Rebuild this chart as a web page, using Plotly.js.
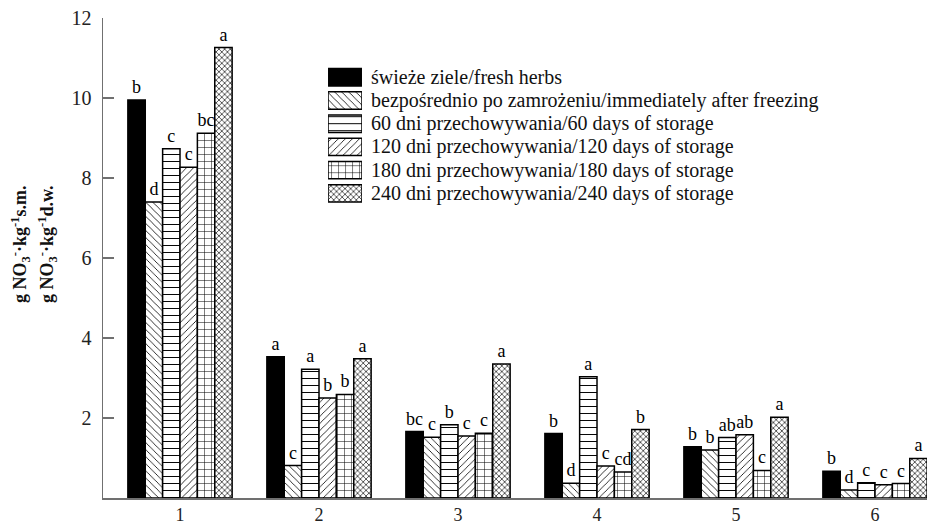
<!DOCTYPE html>
<html>
<head>
<meta charset="utf-8">
<script src="https://cdn.plot.ly/plotly-3.0.1.min.js"></script>
<style>html,body{margin:0;padding:0;background:#fff;}#chart{width:927px;height:524px;}</style>
</head>
<body>
<div id="chart"></div>
<script>
// ---- data ----
const groups = ["1", "2", "3", "4", "5", "6"];
const seriesNames = [
  "świeże ziele/fresh herbs",
  "bezpośrednio po zamrożeniu/immediately after freezing",
  "60 dni przechowywania/60 days of storage",
  "120 dni przechowywania/120 days of storage",
  "180 dni przechowywania/180 days of storage",
  "240 dni przechowywania/240 days of storage"
];
const freshHerbs   = [9.95, 3.53, 1.66, 1.61, 1.28, 0.67];
const afterFreeze  = [7.40, 0.81, 1.52, 0.37, 1.20, 0.20];
const days60       = [8.73, 3.22, 1.83, 3.03, 1.51, 0.38];
const days120      = [8.27, 2.50, 1.55, 0.80, 1.58, 0.33];
const days180      = [9.12, 2.59, 1.62, 0.65, 0.69, 0.36];
const days240      = [11.26, 3.48, 3.35, 1.71, 2.02, 0.99];

const lettersFresh  = ["b", "a", "bc", "b", "b", "b"];
const lettersFreeze = ["d", "c", "c", "d", "b", "d"];
const letters60     = ["c", "a", "b", "a", "ab", "c"];
const letters120    = ["c", "b", "c", "c", "ab", "c"];
const letters180    = ["bc", "b", "c", "cd", "c", "c"];
const letters240    = ["a", "a", "a", "b", "a", "a"];

const yTickVals = [2, 4, 6, 8, 10, 12];
const legendSwatch = [1];

// ---- styles ----
const FONT = "'Liberation Serif', 'Times New Roman', serif";
const shapes = ["", "\\", "-", "/", "+", "x"];
const patSizes = [8, 5, 7, 5, 7, 4];
const patSolid = [0.3, 0.16, 0.14, 0.16, 0.14, 0.3];
const fills = ["#000000", "#ffffff", "#ffffff", "#ffffff", "#ffffff", "#ffffff"];

const values = [freshHerbs, afterFreeze, days60, days120, days180, days240];
const letters = [lettersFresh, lettersFreeze, letters60, letters120, letters180, letters240];

function makeMarker(i) {
  const marker = { color: fills[i], line: { color: "#000", width: 1.5 } };
  if (shapes[i]) {
    marker.pattern = { shape: shapes[i], fgcolor: "#000", bgcolor: "#fff",
                       size: patSizes[i], solidity: patSolid[i], fillmode: "replace" };
  }
  return marker;
}

const traces = values.map((vals, i) => ({
  type: "bar", x: groups, y: vals, name: seriesNames[i],
  marker: makeMarker(i), text: letters[i], textposition: "outside",
  textangle: 0, constraintext: "none", cliponaxis: false,
  textfont: { family: FONT, size: 18, color: "#000" },
  hoverinfo: "skip", showlegend: false, xaxis: "x", yaxis: "y"
}));

// custom legend swatches: one bar per series, same offsetgroup so they are not subdivided
seriesNames.forEach((n, i) => {
  traces.push({
    type: "bar", orientation: "h", x: legendSwatch, y: [n],
    xaxis: "x2", yaxis: "y2", offsetgroup: "legend",
    showlegend: false, hoverinfo: "skip", marker: makeMarker(i)
  });
});

const annotations = seriesNames.map(n => ({
  xref: "x2", yref: "y2", x: 1, y: n, xanchor: "left", yanchor: "middle",
  xshift: 7, text: n, showarrow: false,
  font: { family: FONT, size: 20, color: "#111" }
}));
annotations.push({
  xref: "paper", yref: "paper", x: -0.1007, y: 0.529, textangle: -90,
  xanchor: "center", yanchor: "middle", showarrow: false,
  text: "<b>g NO<sub>3</sub><sup>-</sup>·kg<sup>-1</sup>s.m.</b>",
  font: { family: FONT, size: 18, color: "#111" }
});
annotations.push({
  xref: "paper", yref: "paper", x: -0.068, y: 0.529, textangle: -90,
  xanchor: "center", yanchor: "middle", showarrow: false,
  text: "<b>g NO<sub>3</sub><sup>-</sup>·kg<sup>-1</sup>d.w.</b>",
  font: { family: FONT, size: 18, color: "#111" }
});

const layout = {
  width: 927, height: 524,
  margin: { l: 103, r: 0, t: 18, b: 26 },
  paper_bgcolor: "#fff", plot_bgcolor: "#fff",
  barmode: "group", bargap: 0.25, bargroupgap: 0,
  showlegend: false,
  font: { family: FONT, color: "#222" },
  xaxis: {
    type: "category", range: [-0.554, 5.374], showgrid: false, zeroline: false,
    showline: true, linecolor: "#707070", linewidth: 1.5,
    ticks: "", ticklabelstandoff: 0,
    tickfont: { family: FONT, size: 18, color: "#222" }, fixedrange: true
  },
  yaxis: {
    range: [0, 12], showgrid: false, zeroline: false,
    showline: true, linecolor: "#707070", linewidth: 1.5,
    ticks: "inside", ticklen: 11, tickcolor: "#707070", tickwidth: 1.5,
    tickvals: yTickVals, ticklabelstandoff: 6,
    tickfont: { family: FONT, size: 20, color: "#222" }, fixedrange: true
  },
  xaxis2: { domain: [0.2731, 0.3143], range: [0, 1], anchor: "y2", visible: false, fixedrange: true },
  yaxis2: { domain: [0.6065, 0.9038], anchor: "x2", visible: false, type: "category",
            categoryorder: "array", categoryarray: seriesNames.slice().reverse(), fixedrange: true },
  annotations: annotations
};

Plotly.newPlot("chart", traces, layout, { displayModeBar: false, staticPlot: true });
</script>
</body>
</html>
